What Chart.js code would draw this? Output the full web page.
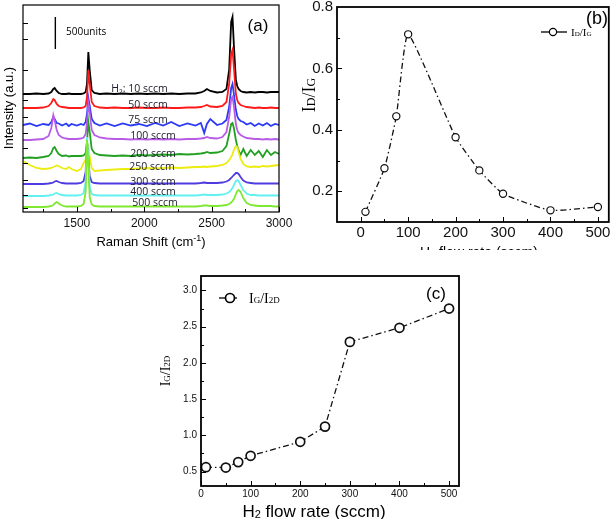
<!DOCTYPE html>
<html>
<head>
<meta charset="utf-8">
<title>Raman spectra vs H2 flow rate</title>
<script src="https://cdn.jsdelivr.net/npm/chart.js@4.4.1/dist/chart.umd.min.js"></script>
<style>
  html, body { margin: 0; padding: 0; background: #fff; }
  #figure { position: relative; width: 614px; height: 519px; overflow: hidden; background: #fff; }
  #figure canvas { position: absolute; }
</style>
</head>
<body>
<div id="figure">
  <canvas id="ramanChart" width="300" height="250" style="left:0;top:0"></canvas>
  <canvas id="ratioDGChart" width="314" height="250" style="left:300px;top:0"></canvas>
  <canvas id="ratioG2DChart" width="330" height="269" style="left:140px;top:250px"></canvas>
</div>
<script>
// ---- panel (a): Raman spectra, intensity in a.u. (500 units = 32) ----
const RAMAN_SHIFT = [1100, 1150, 1200, 1250, 1290, 1310, 1325, 1335, 1350, 1365,
  1390, 1420, 1440, 1460, 1500, 1530, 1550, 1565, 1575, 1585,
  1595, 1610, 1630, 1670, 1720, 1780, 1840, 1900, 1960, 2020,
  2080, 2140, 2200, 2260, 2320, 2380, 2420, 2445, 2465, 2490,
  2540, 2580, 2610, 2630, 2645, 2655, 2665, 2680, 2690, 2700,
  2715, 2735, 2760, 2790, 2820, 2850, 2880, 2910, 2940, 2970,
  3000];

const I_10 = [118, 118, 118.5, 118, 118.5, 120, 123, 124, 121, 119,
  118, 118, 118.5, 118, 118, 118, 118.5, 120, 128, 160,
  142, 122, 119, 118, 118.5, 118, 118.5, 118, 118.5, 118,
  118.5, 118, 118.5, 118, 118.5, 118.5, 119.5, 121, 123, 121,
  119.5, 120, 123, 142, 190, 195, 167, 132, 126, 123,
  121, 120, 119.5, 120, 119.5, 120, 120, 119.5, 120, 120,
  120];
const I_50 = [104, 104, 104, 104.5, 106, 109, 113, 112, 108, 106,
  105, 104.5, 104, 104, 104, 104, 104.5, 106, 115, 142,
  128, 110, 106, 104.5, 104, 104.5, 104, 104, 104.5, 104,
  104, 104.5, 104, 104, 104.5, 104.5, 105, 106, 107, 105.5,
  105, 106, 110, 128, 158, 162, 145, 118, 112, 109,
  107, 106, 105, 104.5, 104, 104.5, 104, 104, 104.5, 104,
  104];
const I_75 = [87, 88.5, 86, 88, 87, 90, 95, 93, 89, 88.5,
  86.5, 88.5, 86, 88, 86.5, 88, 87, 90, 98, 114,
  106, 93, 89, 86.5, 88.5, 86, 88.5, 86.5, 88, 86,
  89, 86.5, 90, 86, 88.5, 86.5, 89, 79, 88, 93,
  87, 88.5, 92, 105, 124, 128, 118, 102, 96, 93,
  91, 90, 87.5, 89, 86, 88.5, 86.5, 89, 86, 88,
  87];
const I_100 = [72, 72, 72.5, 73, 76, 84, 97, 92, 82, 77,
  74.5, 73.5, 73, 73, 73, 73.5, 74.5, 78, 90, 109,
  100, 82, 77, 74.5, 73.5, 73, 73, 72.5, 73, 72.5,
  73, 72.5, 73, 72.5, 73, 73, 73.5, 74, 75, 74,
  73.5, 75, 80, 95, 113, 115, 106, 88, 82, 79,
  77, 75.5, 74, 73.5, 73, 73, 72.5, 73, 72.5, 73,
  72.5];
const I_200 = [54, 54.5, 54, 55, 56, 59, 64, 65, 61, 58,
  56, 56.5, 55.5, 56, 56, 56, 56.5, 59, 70, 90,
  80, 63, 59, 57, 56.5, 56, 56.5, 56, 57, 56.5,
  57, 57.5, 57, 58, 57.5, 58, 58.5, 59, 60, 59,
  59.5, 61, 66, 78, 88, 89, 84, 72, 66, 62,
  57, 63, 56, 62, 57, 61, 55, 62, 57, 60,
  58];
const I_250 = [51, 47, 44, 43, 43.5, 44, 45, 45.5, 46.5, 46,
  44, 43, 45, 43, 41, 43, 49, 52, 60, 65,
  55, 44, 41, 41.5, 42, 42.5, 43, 43, 43.5, 44,
  43.5, 44, 44.5, 44, 44.5, 45, 45, 45.5, 45, 45.5,
  46, 47, 49, 52, 55, 58, 62, 66, 65, 60,
  53, 48, 45.5, 45, 45.5, 45, 46, 45.5, 46, 46.5,
  47];
const I_300 = [28, 28, 28, 28, 28.5, 29, 29.5, 30.5, 31, 30,
  29, 28.5, 28.5, 28.5, 28.5, 29, 31, 40, 70, 55,
  36, 30, 29, 28.5, 28.5, 28.5, 28.5, 28.5, 28.5, 28.5,
  28.5, 28.5, 28.5, 28.5, 28.5, 28.5, 29, 29.5, 29, 29,
  29, 29.5, 30.5, 32, 34, 35.5, 37, 39, 39, 38,
  35, 31.5, 29.5, 29, 28.5, 28.5, 28.5, 28.5, 28.5, 28.5,
  28.5];
const I_400 = [16, 16, 16, 16, 16.5, 17, 17.5, 18.5, 19, 18,
  17, 16.5, 16.5, 16.5, 16.5, 17, 19, 30, 75, 55,
  25, 18, 17, 16.5, 16.5, 16.5, 16.5, 16.5, 16.5, 16.5,
  16.5, 16.5, 16.5, 16.5, 16.5, 16.5, 17, 17.5, 17, 17,
  17, 17.5, 18.5, 20, 22, 24, 27, 31, 32, 31,
  27, 22, 18.5, 17, 17, 16.5, 16.5, 16.5, 16.5, 16.5,
  16.5];
const I_500 = [5, 5, 5, 5, 5.5, 6, 7, 8.5, 10, 8.5,
  6.5, 5.5, 5.5, 5.5, 5.5, 6, 8, 20, 72, 45,
  15, 7.5, 6, 5.5, 5.5, 5.5, 5.5, 5.5, 5.5, 5.5,
  5.5, 5.5, 5.5, 5.5, 5.5, 5.5, 6, 6.5, 6.5, 6,
  6, 6.5, 7, 8, 9.5, 11, 13, 18, 21, 22,
  20, 14, 9, 7, 6.5, 6, 6, 6, 6, 5.5,
  5.5];

const SPECTRA = [I_10, I_50, I_75, I_100, I_200, I_250, I_300, I_400, I_500];
const SERIES_LABELS = ['H₂: 10 sccm', '50 sccm', '75 sccm', '100 sccm', '200 sccm',
  '250 sccm', '300 sccm', '400 sccm', '500 sccm'];
const SERIES_COLORS = ['#000000', '#ff1a1a', '#2b3bf5', '#b85ce8', '#22a022',
  '#ecec10', '#4f3ce0', '#62f0f0', '#7fe830'];
// where each label sits, in data units (shift, intensity)
const LABEL_X = [1965, 2028, 2028, 2065, 2065, 2057, 2065, 2065, 2080];
const LABEL_Y = [124, 108, 93, 77, 59, 46, 31, 21, 10];
const RAMAN_TICKS = [1500, 2000, 2500, 3000];
const SCALE_BAR_X = 1340;
const SCALE_BAR_Y = [163, 195];

// ---- panels (b) and (c) ----
const FLOW_RATE = [10, 50, 75, 100, 200, 250, 300, 400, 500];
const ID_IG = [0.133, 0.275, 0.444, 0.711, 0.376, 0.268, 0.192, 0.138, 0.149];
const IG_I2D = [0.56, 0.555, 0.63, 0.717, 0.91, 1.12, 2.29, 2.485, 2.75];
const FLOW_TICKS = [0, 100, 200, 300, 400, 500];
const ID_IG_TICKS = [0.2, 0.4, 0.6, 0.8];
const IG_I2D_TICKS = [0.5, 1.0, 1.5, 2.0, 2.5, 3.0];

const SANS = "'Liberation Sans', Arial, sans-serif";
const SERIF = "'Liberation Serif', 'Times New Roman', serif";
const OPEN = "'Open Sans', sans-serif";
const DASH_DOT = [6, 3, 1.5, 3];

Chart.defaults.font.family = SANS;
Chart.defaults.color = '#111';

const P = (t, size, dy) => ({ t, size, dy: dy || 0 });

function drawParts(ctx, t) {
  const fam = t.family || SANS;
  ctx.save();
  ctx.translate(t.x, t.y);
  if (t.rot) ctx.rotate(t.rot);
  ctx.fillStyle = t.color || '#000';
  ctx.textBaseline = 'alphabetic';
  let w = 0, big = 0;
  t.parts.forEach(p => {
    ctx.font = p.size + 'px ' + fam;
    p.w = ctx.measureText(p.t).width;
    w += p.w;
    big = Math.max(big, p.size);
  });
  let cx = t.align === 'left' ? 0 : -w / 2;
  t.parts.forEach(p => {
    ctx.font = p.size + 'px ' + fam;
    ctx.fillText(p.t, cx, big * 0.35 + p.dy);
    cx += p.w;
  });
  ctx.restore();
}

// inward ticks, box frame, titles and legend
function panelDecor(cfg) {
  return {
    id: 'panelDecor',
    afterDatasetsDraw(chart) {
      const { ctx, chartArea: a, scales } = chart;
      ctx.save();
      ctx.strokeStyle = '#000';
      ctx.lineWidth = 1;
      ctx.beginPath();
      const tickX = (vals, len) => vals.forEach(v => {
        const px = Math.round(scales.x.getPixelForValue(v)) + 0.5;
        ctx.moveTo(px, a.bottom);
        ctx.lineTo(px, a.bottom - len);
      });
      const tickY = (vals, len) => vals.forEach(v => {
        const py = Math.round(scales.y.getPixelForValue(v)) + 0.5;
        ctx.moveTo(a.left, py);
        ctx.lineTo(a.left + len, py);
      });
      tickX(cfg.xMajor, 5);
      tickX(cfg.xMinor || [], 3);
      tickY(cfg.yMajor, 5);
      tickY(cfg.yMinor || [], 3);
      ctx.stroke();

      ctx.lineWidth = cfg.frame;
      ctx.strokeRect(a.left, a.top, a.right - a.left, a.bottom - a.top);

      (cfg.dataTexts || []).forEach(t => {
        drawParts(ctx, Object.assign({}, t, {
          x: scales.x.getPixelForValue(t.vx),
          y: scales.y.getPixelForValue(t.vy)
        }));
      });
      (cfg.texts || []).forEach(t => drawParts(ctx, t));

      if (cfg.legend) {
        const L = cfg.legend;
        ctx.lineWidth = 1.3;
        ctx.beginPath();
        ctx.moveTo(L.x1, L.y);
        ctx.lineTo(L.x2, L.y);
        ctx.stroke();
        ctx.fillStyle = '#fff';
        ctx.lineWidth = L.bw;
        ctx.beginPath();
        ctx.arc(L.cx, L.y, L.r, 0, Math.PI * 2);
        ctx.fill();
        ctx.stroke();
        drawParts(ctx, { x: L.tx, y: L.y, align: 'left', family: SERIF, parts: L.parts });
      }
      ctx.restore();
    }
  };
}

function fixedAxes(xHeight, yWidth) {
  return {
    x: s => { s.height = xHeight; s.paddingLeft = 0; s.paddingRight = 0; },
    y: s => { s.width = yWidth; s.paddingTop = 0; s.paddingBottom = 0; }
  };
}

const noGrid = { display: false, drawTicks: false };

// ---- (a) ----
const fitA = fixedAxes(38, 23);
const spectraSets = SPECTRA.map((vals, i) => ({
  label: SERIES_LABELS[i],
  data: vals.map((v, j) => ({ x: RAMAN_SHIFT[j], y: v })),
  borderColor: SERIES_COLORS[i],
  borderWidth: 1.8,
  pointRadius: 0,
  tension: 0,
  order: SPECTRA.length - i
}));
spectraSets.push({
  label: '500units',
  data: SCALE_BAR_Y.map(y => ({ x: SCALE_BAR_X, y })),
  borderColor: '#000',
  borderWidth: 1.4,
  pointRadius: 0,
  order: 0
});

new Chart(document.getElementById('ramanChart'), {
  type: 'line',
  data: { datasets: spectraSets },
  options: {
    responsive: false,
    animation: false,
    layout: { padding: { left: 0, top: 5, right: 21, bottom: 0 } },
    plugins: { legend: { display: false }, tooltip: { enabled: false } },
    scales: {
      x: {
        type: 'linear', min: 1100, max: 3000,
        grid: noGrid, border: { display: false },
        afterBuildTicks: s => { s.ticks = RAMAN_TICKS.map(v => ({ value: v })); },
        afterFit: fitA.x,
        ticks: { padding: 4, maxRotation: 0, autoSkip: false, font: { size: 12 }, callback: v => String(v) }
      },
      y: {
        min: 0, max: 207,
        grid: noGrid, border: { display: false },
        ticks: { display: false },
        afterFit: fitA.y
      }
    }
  },
  plugins: [panelDecor({
    frame: 1.2,
    xMajor: [1500, 2000, 2500, 3000],
    xMinor: [1250, 1750, 2250, 2750],
    yMajor: [4, 17, 32, 49, 64, 79, 95, 112, 142, 173, 189],
    dataTexts: SERIES_LABELS.map((s, i) => ({
      vx: LABEL_X[i], vy: LABEL_Y[i], family: OPEN, color: '#1b1b2a', parts: [P(s, 10.5)]
    })),
    texts: [
      { x: 8, y: 108, rot: -Math.PI / 2, parts: [P('Intensity (a.u.)', 13)] },
      { x: 151, y: 241, parts: [P('Raman Shift (cm', 13), P('-1', 9, -5), P(')', 13)] },
      { x: 258, y: 25, parts: [P('(a)', 17)] },
      { x: 66, y: 31, align: 'left', family: OPEN, parts: [P('500units', 10)] }
    ]
  })]
});

// ---- (b) ----
const fitB = fixedAxes(28, 37);
new Chart(document.getElementById('ratioDGChart'), {
  type: 'line',
  data: {
    datasets: [{
      label: 'ID/IG',
      data: FLOW_RATE.map((x, i) => ({ x, y: ID_IG[i] })),
      borderColor: '#111',
      borderWidth: 1.3,
      borderDash: DASH_DOT,
      tension: 0.15,
      pointRadius: 3.6,
      pointBorderWidth: 1.2,
      pointBackgroundColor: '#fff',
      pointBorderColor: '#111'
    }]
  },
  options: {
    responsive: false,
    animation: false,
    layout: { padding: { left: 0, top: 7, right: 2, bottom: 0 } },
    plugins: { legend: { display: false }, tooltip: { enabled: false } },
    scales: {
      x: {
        type: 'linear', min: -50, max: 523,
        grid: noGrid, border: { display: false },
        afterBuildTicks: s => { s.ticks = FLOW_TICKS.map(v => ({ value: v })); },
        afterFit: fitB.x,
        ticks: { padding: 2, maxRotation: 0, autoSkip: false, font: { size: 15 }, callback: v => String(v) }
      },
      y: {
        min: 0.1, max: 0.8,
        grid: noGrid, border: { display: false },
        afterBuildTicks: s => { s.ticks = ID_IG_TICKS.map(v => ({ value: v })); },
        afterFit: fitB.y,
        ticks: { padding: 4, font: { size: 15 }, callback: v => Number(v).toFixed(1) }
      }
    }
  },
  plugins: [panelDecor({
    frame: 1.8,
    xMajor: FLOW_TICKS,
    xMinor: [50, 150, 250, 350, 450],
    yMajor: [0.2, 0.4, 0.6],
    yMinor: [0.3, 0.5, 0.7],
    texts: [
      { x: 9, y: 95, rot: -Math.PI / 2, family: SERIF,
        parts: [P('I', 18), P('D', 12), P('/', 18), P('I', 18), P('G', 12)] },
      { x: 179, y: 252, parts: [P('H', 14), P('2', 9, 1), P(' flow rate (sccm)', 14)] },
      { x: 297, y: 18, parts: [P('(b)', 18)] }
    ],
    legend: { x1: 241, x2: 267, cx: 253, y: 32, r: 3.6, bw: 1.2, tx: 271,
      parts: [P('I', 11), P('D', 7), P('/', 11), P('I', 11), P('G', 7)] }
  })]
});

// ---- (c) ----
const fitC = fixedAxes(33, 61);
new Chart(document.getElementById('ratioG2DChart'), {
  type: 'line',
  data: {
    datasets: [{
      label: 'IG/I2D',
      data: FLOW_RATE.map((x, i) => ({ x, y: IG_I2D[i] })),
      borderColor: '#111',
      borderWidth: 1.3,
      borderDash: DASH_DOT,
      tension: 0,
      pointRadius: 4.5,
      pointBorderWidth: 1.7,
      pointBackgroundColor: '#fff',
      pointBorderColor: '#111'
    }]
  },
  options: {
    responsive: false,
    animation: false,
    layout: { padding: { left: 0, top: 26, right: 11, bottom: 0 } },
    plugins: { legend: { display: false }, tooltip: { enabled: false } },
    scales: {
      x: {
        type: 'linear', min: 0, max: 520,
        grid: noGrid, border: { display: false },
        afterBuildTicks: s => { s.ticks = FLOW_TICKS.map(v => ({ value: v })); },
        afterFit: fitC.x,
        ticks: { padding: 2, maxRotation: 0, autoSkip: false, font: { size: 10 }, callback: v => String(v) }
      },
      y: {
        min: 0.3, max: 3.2,
        grid: noGrid, border: { display: false },
        afterBuildTicks: s => { s.ticks = IG_I2D_TICKS.map(v => ({ value: v })); },
        afterFit: fitC.y,
        ticks: { padding: 4, font: { size: 10 }, callback: v => Number(v).toFixed(1) }
      }
    }
  },
  plugins: [panelDecor({
    frame: 1.8,
    xMajor: FLOW_TICKS,
    xMinor: [50, 150, 250, 350, 450],
    yMajor: IG_I2D_TICKS,
    yMinor: [0.75, 1.25, 1.75, 2.25, 2.75],
    texts: [
      { x: 25, y: 121, rot: -Math.PI / 2, family: SERIF,
        parts: [P('I', 14), P('G', 9), P('/', 14), P('I', 14), P('2D', 9)] },
      { x: 174, y: 261, parts: [P('H', 17), P('2', 11, 1), P(' flow rate (sccm)', 17)] },
      { x: 296, y: 43, parts: [P('(c)', 17)] }
    ],
    legend: { x1: 79, x2: 97, cx: 90, y: 48, r: 4.5, bw: 1.7, tx: 109,
      parts: [P('I', 14), P('G', 9), P('/', 14), P('I', 14), P('2D', 9)] }
  })]
});
</script>
</body>
</html>
